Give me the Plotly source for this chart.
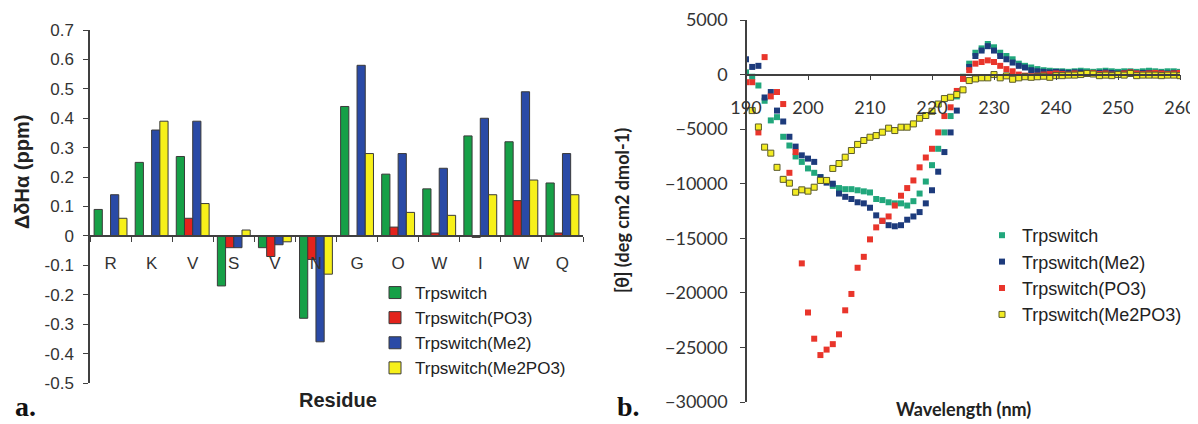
import plotly.graph_objects as go

# ---------------- Panel a: bar data ----------------
residues = ["R", "K", "V", "S", "V", "N", "G", "O", "W", "I", "W", "Q"]
trpswitch = [0.09, 0.25, 0.27, -0.17, -0.04, -0.28, 0.44, 0.21, 0.16, 0.34, 0.32, 0.18]
trpswitch_po3 = [0.0, 0.0, 0.06, -0.04, -0.07, -0.08, 0.0, 0.03, 0.01, -0.005, 0.12, 0.01]
trpswitch_me2 = [0.14, 0.36, 0.39, -0.04, -0.03, -0.36, 0.58, 0.28, 0.23, 0.40, 0.49, 0.28]
trpswitch_me2po3 = [0.06, 0.39, 0.11, 0.02, -0.02, -0.13, 0.28, 0.08, 0.07, 0.14, 0.19, 0.14]
bar_yticks = [0.7, 0.6, 0.5, 0.4, 0.3, 0.2, 0.1, 0, -0.1, -0.2, -0.3, -0.4, -0.5]
bar_yticktext = ["0.7", "0.6", "0.5", "0.4", "0.3", "0.2", "0.1", "0", "-0.1", "-0.2", "-0.3", "-0.4", "-0.5"]

# ---------------- Panel b: CD spectra ----------------
wavelength = list(range(190, 261))
cd_trpswitch = [200, -200, -1000, -2400, -4200, -3900, -5700, -6500, -7500, -8000,
                -8600, -9000, -9400, -9700, -10200, -10400, -10500, -10500, -10600, -10700,
                -10800, -11400, -11500, -11700, -11800, -11800, -12000, -11600, -10900, -9800,
                -8300, -6800, -5300, -3800, -2000, -200, 1000, 2000, 2400, 2800,
                2500, 2000, 1700, 1400, 1000, 800, 650, 500, 400, 350,
                300, 300, 250, 300, 350, 300, 250, 300, 350, 300,
                250, 300, 300, 250, 300, 350, 300, 250, 300, 300, 250]
cd_me2 = [1400, 700, 800, -2100, -1600, -3300, -4300, -5700, -6600, -7400,
          -7700, -8000, -9400, -9900, -10000, -10900, -11200, -11400, -11700, -11800,
          -12200, -12900, -13400, -13800, -13900, -13800, -13300, -13000, -12600, -11800,
          -10600, -8900, -7100, -5300, -3300, -300, 700, 1700, 2200, 2600,
          2200, 1700, 1400, 1100, 800, 650, 400, 300, 250, 200,
          250, 200, 150, 200, 200, 150, 100, 150, 200, 150,
          100, 150, 200, 100, 150, 150, 100, 150, 100, 150, 100]
cd_po3 = [-700, -700, -5300, 1600, -2000, -1600, -2700, -9000, -7100, -17300,
          -21800, -24200, -25700, -25200, -24700, -23800, -21600, -20100, -17700, -16700,
          -15100, -14000, -13400, -13000, -12000, -11100, -10400, -9700, -8500, -7600,
          -6800, -5300, -3800, -3000, -1500, -400, 400, 1000, 1150, 1300,
          1150, 800, 500, 300, 0, -100, -150, -100, 0, 50,
          100, 50, 0, 100, 50, 100, 150, 50, 100, 0,
          50, 100, 200, 100, 50, 100, 150, 100, 50, 100, 150]
cd_me2po3 = [None, -3300, -4800, -6650, -7200, -8500, -9600, -9950, -10780, -10560,
             -10680, -10320, -9700, -9700, -8600, -8150, -7570, -6960, -6400, -6040,
             -5740, -5590, -5280, -4910, -5130, -4820, -4820, -4520, -4000, -3750,
             -3360, -2700, -2200, -2080, -1830, -1400, -550, -400, -300, -300,
             0, -300, -120, -430, -300, -200, -250, -200, -150, -250,
             -100, -100, -50, -50, 0, 100, 50, -100, -50, -100,
             0, -50, 100, -100, -50, -50, -50, -100, -50, -50, -100]

# page offset (body margin) and figure size
OFF = 8
W, H = 1190, 416


def px(x):
    return (x - OFF) / W


def py(y):
    return 1 - (y - OFF) / H


# domains
ax_a = [px(90), px(583)]
ay_a = [py(383), py(30)]
ax_b = [px(746), px(1180)]
ay_b = [py(402), py(20)]

pos_idx = list(range(len(residues)))

fig = go.Figure()

bar_series = [
    ("Trpswitch", trpswitch, "#16a047"),
    ("Trpswitch(PO3)", trpswitch_po3, "#e3231c"),
    ("Trpswitch(Me2)", trpswitch_me2, "#2a4aa6"),
    ("Trpswitch(Me2PO3)", trpswitch_me2po3, "#f7f01a"),
]
for name, vals, col in bar_series:
    fig.add_trace(go.Bar(
        x=pos_idx, y=vals, name=name, xaxis="x", yaxis="y", legend="legend",
        marker=dict(color=col, line=dict(color="#3a3a3a", width=1)),
    ))

cd_series = [
    ("Trpswitch", cd_trpswitch, "#21a77c", None),
    ("Trpswitch(Me2)", cd_me2, "#1d3b7c", None),
    ("Trpswitch(PO3)", cd_po3, "#e9352b", None),
    ("Trpswitch(Me2PO3)", cd_me2po3, "#f3ec22", "#5a5a2a"),
]
for name, vals, col, lc in cd_series:
    mk = dict(symbol="square", size=6, color=col)
    mk["line"] = dict(color=lc, width=1) if lc else dict(width=0)
    fig.add_trace(go.Scatter(
        x=wavelength, y=vals, name=name, mode="markers", xaxis="x2", yaxis="y2",
        legend="legend2", marker=mk,
    ))

axis_col = "#404040"
tick_col = "#333333"

zero_a = ay_a[0] + (0 - (-0.5)) / (0.7 - (-0.5)) * (ay_a[1] - ay_a[0])
zero_b = ay_b[0] + (0 - (-30000)) / (5000 - (-30000)) * (ay_b[1] - ay_b[0])

fig.update_layout(
    width=W, height=H,
    margin=dict(l=0, r=0, t=0, b=0, autoexpand=False),
    paper_bgcolor="white", plot_bgcolor="white",
    font=dict(family="Liberation Sans, Arial, sans-serif", color="#222222"),
    barmode="group", bargap=0.2, bargroupgap=0,
    xaxis=dict(
        domain=ax_a, anchor="free", position=zero_a, range=[-0.5, 11.5],
        tickvals=pos_idx, ticktext=residues, ticks="",
        minor=dict(ticks="outside", ticklen=5, tick0=0.5, dtick=1, tickcolor=axis_col, showgrid=False),
        showline=True, linecolor=axis_col, linewidth=1.5, showgrid=False, zeroline=False,
        tickfont=dict(size=17, color=tick_col), ticklabelstandoff=12,
    ),
    yaxis=dict(
        domain=ay_a, anchor="x", position=ax_a[0], range=[-0.5, 0.7],
        tickvals=bar_yticks, ticktext=bar_yticktext, ticks="outside", ticklen=5,
        tickcolor=axis_col, showline=True, linecolor=axis_col, linewidth=1.5,
        showgrid=False, zeroline=False, tickfont=dict(size=17, color=tick_col),
        ticklabelstandoff=6,
    ),
    xaxis2=dict(
        domain=ax_b, anchor="free", position=zero_b, range=[190, 260],
        tick0=190, dtick=10, ticks="outside", ticklen=5, tickcolor=axis_col,
        showline=True, linecolor=axis_col, linewidth=1.5, showgrid=False, zeroline=False,
        tickfont=dict(size=18, color=tick_col, family="Lato, sans-serif"), ticklabelstandoff=12,
        ticklabeloverflow="allow",
    ),
    yaxis2=dict(
        domain=ay_b, anchor="free", position=ax_b[0], range=[-30000, 5000],
        tick0=0, dtick=5000, ticks="outside", ticklen=5, tickcolor=axis_col,
        showline=True, linecolor=axis_col, linewidth=1.5, showgrid=False, zeroline=False,
        tickfont=dict(size=18, color=tick_col, family="Lato, sans-serif"),
        ticklabelstandoff=9, tickformat="d",
    ),
    legend=dict(
        x=px(375), y=py(275), xanchor="left", yanchor="top",
        font=dict(size=17, color="#222222"), bgcolor="rgba(0,0,0,0)", tracegroupgap=0,
        itemwidth=30,
    ),
    legend2=dict(
        x=px(982), y=py(217), xanchor="left", yanchor="top",
        font=dict(size=18, color="#222222"), bgcolor="rgba(0,0,0,0)",
        itemwidth=30,
    ),
    showlegend=True,
)

annots = [
    dict(text="<b>ΔδHα (ppm)</b>", x=px(22), y=py(172), textangle=-90,
         font=dict(size=20, color="#222222"), yanchor="middle"),
    dict(text="<b>Residue</b>", x=px(338), y=py(400), font=dict(size=20, color="#222222"),
         yanchor="middle"),
    dict(text="<b>[θ] (deg cm2 dmol-1)</b>", x=px(622), y=py(211), textangle=-90,
         font=dict(size=18, color="#222222", family="Lato, sans-serif"), yanchor="middle"),
    dict(text="<b>Wavelength (nm)</b>", x=px(963), y=py(409),
         font=dict(size=18, color="#222222", family="Lato, sans-serif"), yanchor="middle"),
    dict(text="<b>a.</b>", x=px(25), y=py(424), yanchor="bottom",
         font=dict(size=28, color="#111111", family="Liberation Serif, serif")),
    dict(text="<b>b.</b>", x=px(628), y=py(424), yanchor="bottom",
         font=dict(size=28, color="#111111", family="Liberation Serif, serif")),
]
for a in annots:
    a.update(xref="paper", yref="paper", showarrow=False, xanchor="center")
fig.update_layout(annotations=annots)

fig.write_html("out.html")
